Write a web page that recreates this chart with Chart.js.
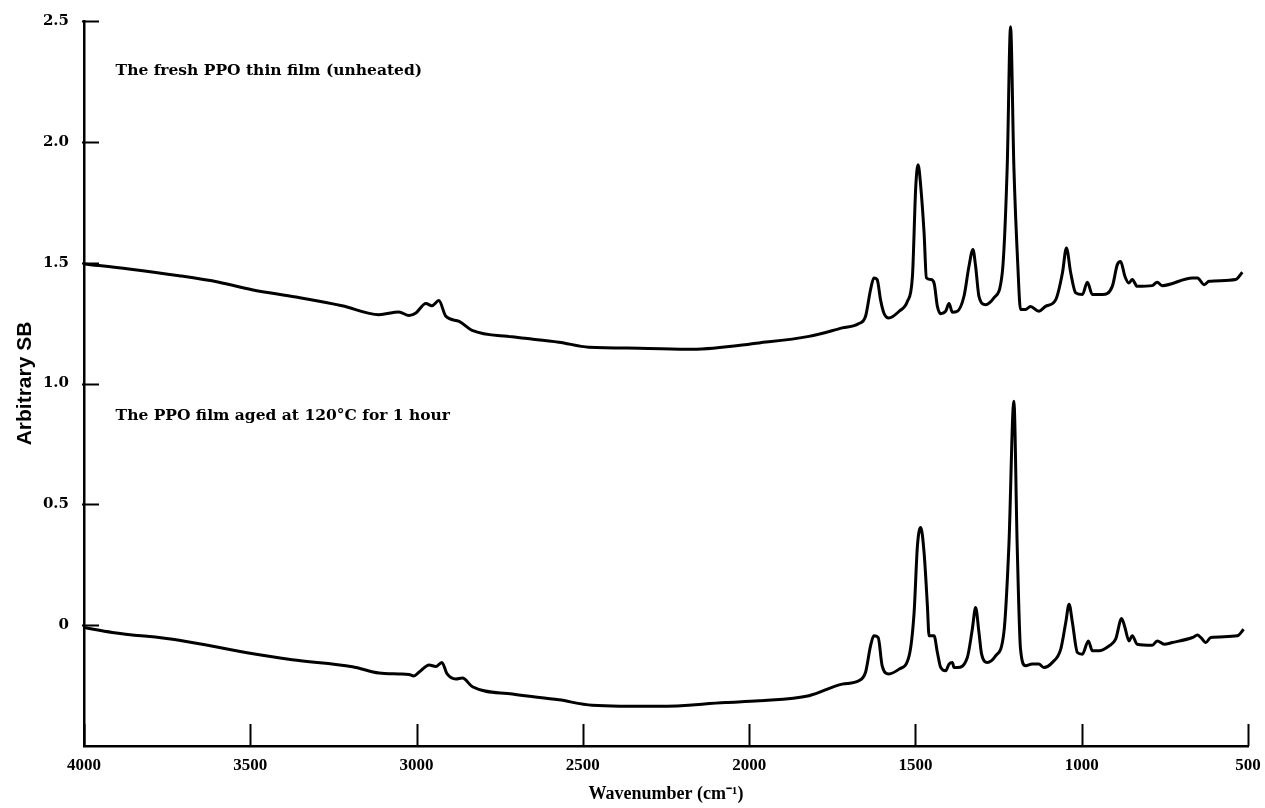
<!DOCTYPE html>
<html>
<head>
<meta charset="utf-8">
<script src="https://cdn.jsdelivr.net/npm/chart.js@4.4.1/dist/chart.umd.min.js"></script>
<style>
  html, body { margin: 0; padding: 0; background: #fff; }
  #wrap { width: 1265px; height: 808px; }
</style>
</head>
<body>
<div id="wrap"><canvas id="spectrum" width="1265" height="808"></canvas></div>
<script>
// FTIR spectra (wavenumber in cm-1, arbitrary units)
const freshWavenumbers = [
  4000, 3865, 3714, 3594, 3495, 3363, 3224, 3113, 3053, 3023, 3002, 2972, 2954, 2933,
  2912, 2872, 2833, 2713, 2572, 2482, 2331, 2171, 1970, 1820, 1720, 1670, 1650, 1635,
  1625, 1615, 1605, 1595, 1580, 1549, 1524, 1509, 1499, 1492, 1484, 1474, 1467, 1454,
  1444, 1434, 1424, 1409, 1399, 1389, 1374, 1354, 1339, 1327, 1319, 1309, 1289, 1264,
  1239, 1224, 1214, 1204, 1192, 1184, 1169, 1154, 1129, 1109, 1078, 1058, 1046, 1033,
  1018, 998, 983, 968, 938, 908, 893, 883, 870, 858, 848, 833, 788, 773, 758, 667,
  652, 632, 617, 537, 517
];
const freshValues = [
  1.495, 1.474, 1.446, 1.419, 1.388, 1.358, 1.322, 1.285, 1.296, 1.281, 1.292, 1.331, 1.322, 1.343,
  1.278, 1.257, 1.220, 1.193, 1.171, 1.150, 1.146, 1.142, 1.168, 1.195, 1.230, 1.248, 1.278, 1.388,
  1.437, 1.430, 1.347, 1.292, 1.271, 1.299, 1.340, 1.443, 1.815, 1.905, 1.815, 1.623, 1.437, 1.430,
  1.416, 1.319, 1.289, 1.299, 1.331, 1.295, 1.299, 1.361, 1.485, 1.554, 1.485, 1.361, 1.326, 1.354,
  1.457, 1.898, 2.476, 1.898, 1.485, 1.306, 1.306, 1.319, 1.299, 1.319, 1.347, 1.457, 1.561, 1.457,
  1.375, 1.368, 1.419, 1.368, 1.368, 1.402, 1.492, 1.505, 1.443, 1.416, 1.430, 1.402, 1.405, 1.419, 1.405, 1.437,
  1.437, 1.409, 1.423, 1.430, 1.460
];

const agedWavenumbers = [
  4000, 3915, 3714, 3514, 3374, 3193, 3113, 3053, 3023, 3008, 2993, 2962, 2942, 2924,
  2908, 2882, 2862, 2832, 2712, 2572, 2472, 2271, 2071, 1970, 1820, 1720, 1670, 1650,
  1635, 1625, 1612, 1600, 1580, 1549, 1519, 1504, 1494, 1484, 1474, 1464, 1459, 1444,
  1434, 1424, 1409, 1399, 1389, 1384, 1374, 1344, 1329, 1319, 1309, 1301, 1284, 1259,
  1234, 1219, 1204, 1194, 1184, 1169, 1149, 1129, 1114, 1088, 1063, 1048, 1038, 1028,
  1013, 998, 980, 968, 948, 918, 898, 880, 870, 858, 848, 833, 788, 773, 752, 728,
  667, 652, 642, 627, 612, 532, 513
];
const agedValues = [
  -0.010, -0.030, -0.062, -0.113, -0.143, -0.172, -0.198, -0.202, -0.204, -0.210, -0.195, -0.165, -0.171, -0.154,
  -0.202, -0.223, -0.219, -0.255, -0.285, -0.309, -0.331, -0.336, -0.320, -0.313, -0.292, -0.244, -0.230, -0.195,
  -0.086, -0.044, -0.051, -0.168, -0.202, -0.182, -0.127, 0.052, 0.328, 0.404, 0.300, 0.080, -0.044, -0.044,
  -0.113, -0.175, -0.189, -0.161, -0.154, -0.175, -0.175, -0.134, -0.017, 0.073, -0.030, -0.120, -0.154, -0.127,
  -0.030, 0.328, 0.927, 0.328, -0.099, -0.168, -0.161, -0.161, -0.175, -0.154, -0.099, 0.011, 0.087, 0.011,
  -0.113, -0.120, -0.065, -0.106, -0.106, -0.086, -0.058, 0.028, -0.010, -0.065, -0.044, -0.079, -0.083, -0.065, -0.079, -0.072,
  -0.051, -0.041, -0.051, -0.072, -0.051, -0.044, -0.017
];

const xTickValues = [4000, 3500, 3000, 2500, 2000, 1500, 1000, 500];
const yTickValues = [0, 0.5, 1.0, 1.5, 2.0, 2.5];
const seriesNotes = [
  "The fresh PPO thin film (unheated)",
  "The PPO film aged at 120\u00b0C for 1 hour"
];

const toPoints = (xs, ys) => xs.map((x, i) => ({ x: x, y: ys[i] }));

// ticks point inward and are drawn by hand from the scales
const inwardTicks = {
  id: "inwardTicks",
  afterDraw(chart) {
    const { ctx, chartArea, scales } = chart;
    ctx.save();
    ctx.strokeStyle = "#000";
    ctx.lineWidth = 2;
    ctx.beginPath();
    yTickValues.forEach((v) => {
      const py = Math.round(scales.y.getPixelForValue(v)) + 0.5;
      ctx.moveTo(chartArea.left - 2, py);
      ctx.lineTo(chartArea.left + 15, py);
    });
    xTickValues.forEach((v) => {
      const px = Math.round(scales.x.getPixelForValue(v)) + 0.5;
      ctx.moveTo(px, chartArea.bottom);
      ctx.lineTo(px, chartArea.bottom - 22);
    });
    ctx.stroke();
    ctx.restore();
  },
};

// the two captions above each trace
const noteLabels = {
  id: "noteLabels",
  afterDraw(chart) {
    const { ctx, scales } = chart;
    ctx.save();
    ctx.fillStyle = "#000";
    ctx.font = "bold 15.5px 'DejaVu Serif'";
    ctx.textBaseline = "middle";
    ctx.textAlign = "left";
    const left = scales.x.getPixelForValue(3905);
    ctx.fillText(seriesNotes[0], left, scales.y.getPixelForValue(2.295));
    ctx.fillText(seriesNotes[1], left, scales.y.getPixelForValue(0.864));
    ctx.restore();
  },
};

const lineStyle = {
  borderColor: "#000",
  borderWidth: 3,
  pointRadius: 0,
  fill: false,
  cubicInterpolationMode: "monotone",
};

new Chart(document.getElementById("spectrum"), {
  type: "line",
  data: {
    datasets: [
      Object.assign({ label: "fresh", data: toPoints(freshWavenumbers, freshValues) }, lineStyle),
      Object.assign({ label: "aged", data: toPoints(agedWavenumbers, agedValues) }, lineStyle),
    ],
  },
  options: {
    responsive: false,
    animation: false,
    devicePixelRatio: 1,
    layout: { padding: { top: 21, right: 17, bottom: 0, left: 0 } },
    plugins: {
      legend: { display: false },
      tooltip: { enabled: false },
    },
    scales: {
      x: {
        type: "linear",
        reverse: true,
        min: 500,
        max: 4000,
        afterBuildTicks: (s) => { s.ticks = xTickValues.map((v) => ({ value: v })); },
        afterFit: (s) => { s.height = 62; },
        // tick marks are drawn by the plugin; tickLength only sets the label gap
        grid: { display: false, drawTicks: true, tickLength: 9 },
        border: { display: true, color: "#000", width: 2.5 },
        ticks: {
          color: "#000",
          padding: 0,
          maxRotation: 0,
          font: { family: "'Liberation Serif'", weight: "bold", size: 17 },
          callback: (v) => String(v),
        },
        title: {
          display: true,
          text: "Wavenumber (cm\u207b\u00b9)",
          color: "#000",
          padding: { top: 0, bottom: 3 },
          font: { family: "'Liberation Serif'", weight: "bold", size: 18 },
        },
      },
      y: {
        type: "linear",
        min: -0.5,
        max: 2.5,
        afterBuildTicks: (s) => { s.ticks = yTickValues.map((v) => ({ value: v })); },
        afterFit: (s) => { s.width = 84; },
        grid: { display: false, drawTicks: true, tickLength: 13 },
        border: { display: true, color: "#000", width: 2.5 },
        ticks: {
          color: "#000",
          padding: 2,
          crossAlign: "near",
          font: { family: "'DejaVu Serif'", weight: "bold", size: 15 },
          callback: (v) => (v === 0 ? "0" : v.toFixed(1)),
        },
        title: {
          display: true,
          text: "Arbitrary SB",
          color: "#000",
          padding: { top: 13, bottom: 0 },
          font: { family: "'Liberation Sans'", weight: "bold", size: 21 },
        },
      },
    },
  },
  plugins: [inwardTicks, noteLabels],
});
</script>
</body>
</html>
